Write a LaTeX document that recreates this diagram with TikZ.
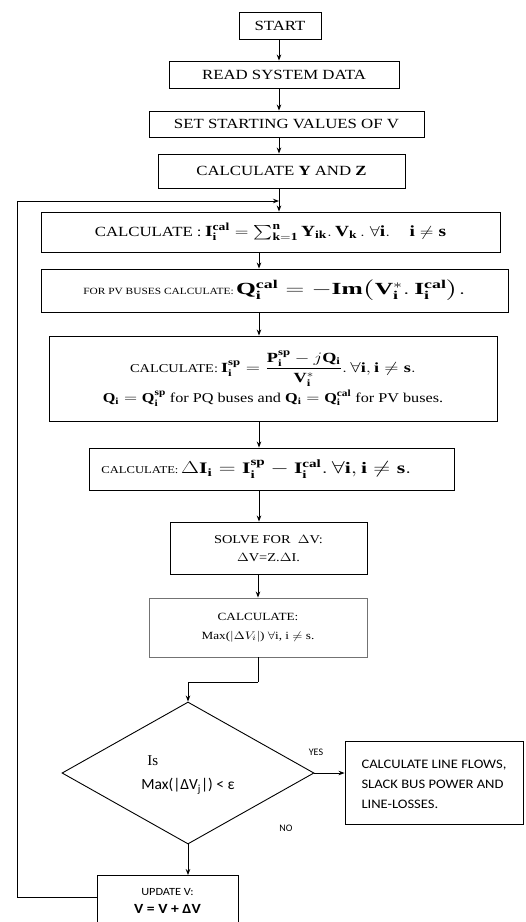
\documentclass[tikz,border=0pt]{standalone}
\usepackage{amsmath}
\usepackage{graphicx}
\usepackage{fontspec}
\setmainfont{Liberation Serif}
\newfontfamily\carlito{Carlito}
\newfontfamily\carlitow{Carlito}[FakeStretch=1.12]
\usetikzlibrary{shapes.geometric,arrows.meta}
\newcommand\sx[1]{\scalebox{1.2}[1]{#1}}
\newcommand\sm[2]{\scalebox{#1}[1]{#2}}
\newcommand\mb[1]{\mathbf{#1}}
\begin{document}
\begin{tikzpicture}[x=1pt,y=-1pt,
  box/.style={draw, line width=0.9pt, rectangle, inner sep=1pt, align=center, font=\fontsize{14}{16}\selectfont},
  arr/.style={-{Stealth[length=6pt,width=4.5pt]}, line width=0.9pt},
  lbl/.style={font=\carlito\fontsize{10}{12}\selectfont, inner sep=0pt}]
\useasboundingbox (0,0) rectangle (526,922);
\coordinate (ax) at (259,0);
\coordinate (bx) at (279,0);
\node[box, minimum width=82pt, minimum height=27pt] (start) at (280,25.5) {\sx{START}};
\node[box, minimum width=230pt, minimum height=27pt] (read) at (284,74.5) {\sx{READ SYSTEM DATA}};
\node[box, minimum width=275pt, minimum height=26pt] (set) at (286.5,124) {\sx{SET STARTING VALUES OF V}};
\node[box, minimum width=247pt, minimum height=34pt] (yz) at (281.5,171) {\sx{CALCULATE \textbf{Y} AND \textbf{Z}}};
\node[box, minimum width=459pt, minimum height=40pt, font=\fontsize{14}{16}\selectfont] (ical) at (270.5,232)
  {\sx{CALCULATE :} \sm{1.25}{\fontsize{15.5}{17}\selectfont$\mb{I}_{\mb{i}}^{\mb{cal}}=\sum_{\mb{k=1}}^{\mb{n}} \mb{Y}_{\mb{ik}}.\,\mb{V}_{\mb{k}}\,.\ \forall \mb{i}.\quad \mb{i}\neq \mb{s}$}};
\node[box, minimum width=467pt, minimum height=43pt, font=\fontsize{9.5}{11}\selectfont] (pv) at (274.5,290.5)
  {\sx{FOR PV BUSES CALCULATE:} \sm{1.5}{\fontsize{17}{19}\selectfont$\mb{Q}_{\mb{i}}^{\mb{cal}} = -\mathbf{Im}\bigl(\mb{V}_{\mb{i}}^{*}.\,\mb{I}_{\mb{i}}^{\mb{cal}}\bigr).$}};
\node[box, minimum width=448pt, minimum height=85pt, font=\fontsize{12}{14}\selectfont] (isp) at (273,378.5)
  {\sx{CALCULATE:} \sm{1.3}{\fontsize{14}{16}\selectfont$\mb{I}_{\mb{i}}^{\mb{sp}} = \dfrac{\mb{P}_{\mb{i}}^{\mb{sp}}-j\mb{Q}_{\mb{i}}}{\mb{V}_{\mb{i}}^{*}}.\,\forall \mb{i}, \mb{i}\neq \mb{s}.$}\\[3pt]
   \sx{\fontsize{13.5}{15}\selectfont$\mb{Q}_{\mb{i}} = \mb{Q}_{\mb{i}}^{\mb{sp}}$ for PQ buses and $\mb{Q}_{\mb{i}}=\mb{Q}_{\mb{i}}^{\mb{cal}}$ for PV buses.}};
\node[box, minimum width=365pt, minimum height=42pt, font=\fontsize{10.5}{12}\selectfont] (di) at (271.5,469)
  {\sx{CALCULATE:} \sm{1.35}{\fontsize{16}{18}\selectfont$\Delta\mb{I}_{\mb{i}} = \mb{I}_{\mb{i}}^{\mb{sp}} - \mb{I}_{\mb{i}}^{\mb{cal}}.\,\forall \mb{i}, \mb{i} \neq \mb{s}.$}\hspace*{30pt}};
\node[box, minimum width=197pt, minimum height=52pt, font=\fontsize{12}{18}\selectfont] (solve) at (268.5,548)
  {\sx{SOLVE FOR \ $\Delta$V:}\\ \sx{$\Delta$V=Z.$\Delta$I.}};
\node[box, draw=black!55, minimum width=218pt, minimum height=59pt, font=\fontsize{11}{19}\selectfont] (max) at (258,627.5)
  {\sx{CALCULATE:}\\ \sx{Max($|\Delta V_i|$) $\forall$i, i $\neq$ s.}};
\node[draw, line width=0.9pt, diamond, minimum width=252pt, minimum height=142pt, inner sep=0pt, align=left,
  font=\fontsize{15}{24}\selectfont] (dec) at (188,773)
  {\mbox{}\\[-10pt]\hspace{6pt}Is\\ {\carlito\fontsize{15.5}{24}\selectfont Max(|ΔV\textsubscript{j}|) < ε}};
\node[box, minimum width=178pt, minimum height=83pt, align=left, inner sep=6pt,
  font=\carlitow\fontsize{13}{20}\selectfont] (res) at (434,782.5)
  {\mbox{}\\[-8pt]CALCULATE LINE FLOWS,\\ SLACK BUS POWER AND\\ LINE-LOSSES.};
\node[box, minimum width=141pt, minimum height=50pt, font=\carlitow\fontsize{11}{18}\selectfont] (upd) at (167.5,900.5)
  {UPDATE V:\\ {\fontsize{14}{16}\selectfont\bfseries V = V + ΔV}};
\node[lbl] (yes) at (316,752) {YES};
\node[lbl] (no) at (286,828) {NO};
% connectors
\draw[arr] (start.south -| bx) -- (read.north -| bx);
\draw[arr] (read.south -| bx) -- (set.north -| bx);
\draw[arr] (set.south -| bx) -- (yz.north -| bx);
\draw[arr] (yz.south -| bx) -- (ical.north -| bx);
\draw[arr] (ical.south -| ax) -- (pv.north -| ax);
\draw[arr] (pv.south -| ax) -- (isp.north -| ax);
\draw[arr] (isp.south -| ax) -- (di.north -| ax);
\draw[arr] (di.south -| ax) -- (solve.north -| ax);
\draw[arr] (solve.south -| max.north) -- (max.north);
\coordinate (k1) at (258,682);
\draw[line width=0.9pt] (max.south) -- (k1);
\draw[arr] (k1) -| (dec.north);
\draw[arr] (dec.east) -- (dec.east -| res.west);
\draw[arr] (dec.south) -- (upd.north -| dec.south);
\coordinate (lp) at (17,201);
\draw[arr] (upd.west |- 0,897) -| (lp) -- (lp -| bx);
\end{tikzpicture}
\end{document}
